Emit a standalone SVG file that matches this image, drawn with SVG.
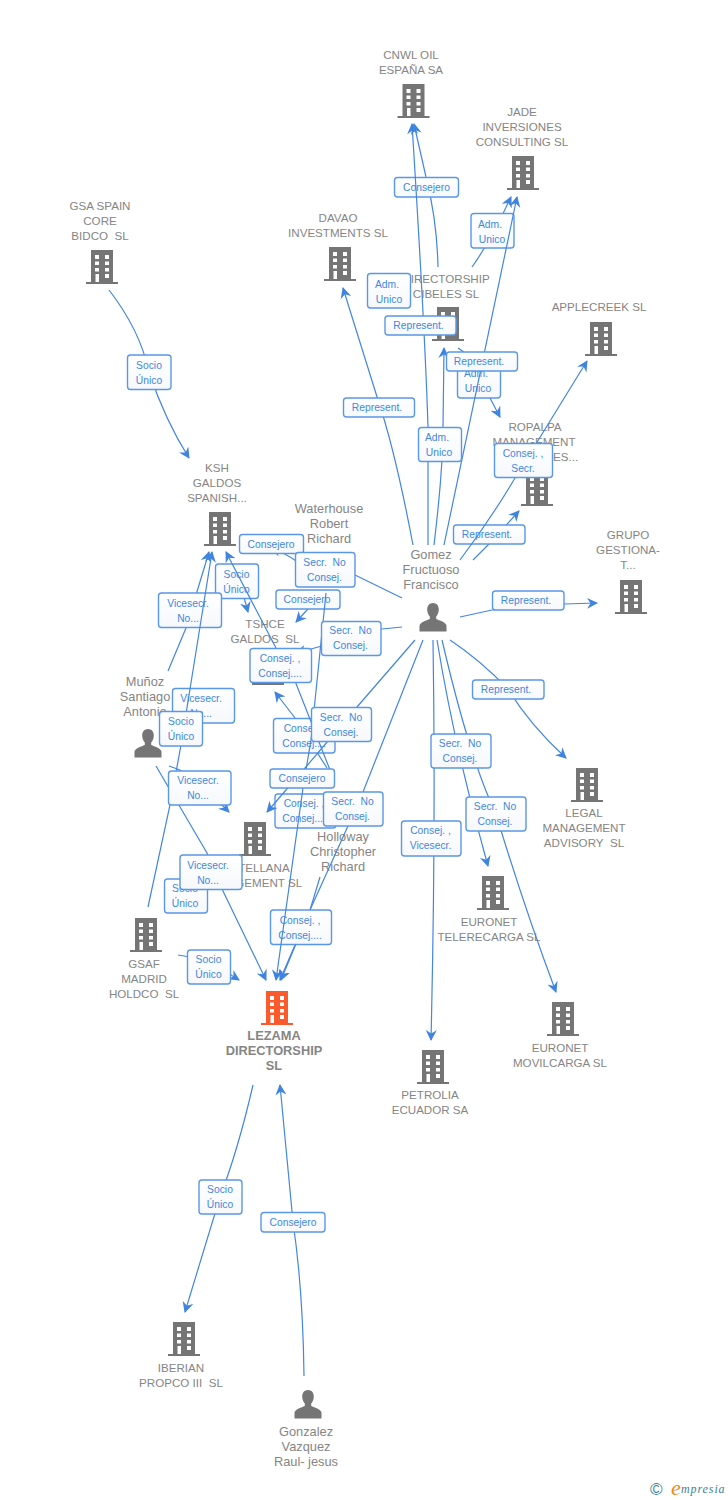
<svg xmlns="http://www.w3.org/2000/svg" width="728" height="1500" viewBox="0 0 728 1500">
<style>
text{font-family:"Liberation Sans",Arial,sans-serif}
.n{font-size:11.6px;fill:#858585;text-anchor:middle}
.p{font-size:12.8px;fill:#858585;text-anchor:middle}
.m{font-size:12.8px;fill:#858585;text-anchor:middle;font-weight:bold}
.c{fill:none;stroke:#4286e0;stroke-width:1.2;marker-end:url(#a)}
.l rect{fill:url(#g);stroke:#5a97e8;stroke-width:1.4}
.l text{font-size:10.3px;fill:#3f87e2;text-anchor:middle}
.b{fill:#757575}
.o{fill:#fb5a2c}
</style>
<defs>
<linearGradient id="g" x1="0" y1="0" x2="0" y2="1"><stop offset="0" stop-color="#ffffff"/><stop offset="1" stop-color="#f6f8fb"/></linearGradient>
<marker id="a" markerUnits="userSpaceOnUse" markerWidth="13" markerHeight="12" refX="10" refY="5.5" orient="auto"><path d="M11 5.500 L0 0 L3.500 5.500 L0 11Z" fill="#3f84de"/></marker>
<symbol id="bd" width="34" height="36" viewBox="-17 0 34 36" overflow="visible"><path fill-rule="evenodd" d="M-11 0H11V32H16V34H-16V32H-11ZM-7 5V9H-3V5ZM3 5V9H7V5ZM-7 11.500V15H-3V11.500ZM3 11.500V15H7V11.500ZM-7 18V21.500H-3V18ZM3 18V21.500H7V18ZM-6.500 24V32H-3V24ZM3 24V28H7V24Z"/></symbol>
<symbol id="pr" width="30" height="32" viewBox="-15 0 30 32" overflow="visible"><path d="M0 0C3.600 0 5.800 2.800 5.800 6.500C5.800 9.500 4.600 12 3.200 13.500V16C6.500 17.500 12.500 19 13.500 22.500V28.500H-13.500V22.500C-12.500 19 -6.500 17.500 -3.200 16V13.500C-4.600 12 -5.800 9.500 -5.800 6.500C-5.800 2.800 -3.600 0 0 0Z"/></symbol>
</defs>
<g id="n-cnwl"><use href="#bd" class="b" x="396.500" y="84"/><text class="n" x="411" y="59">CNWL OIL</text><text class="n" x="411" y="74">ESPAÑA SA</text></g>
<g id="n-jade"><use href="#bd" class="b" x="506" y="156"/><text class="n" x="522" y="116">JADE</text><text class="n" x="522" y="131">INVERSIONES</text><text class="n" x="522" y="146">CONSULTING SL</text></g>
<g id="n-davao"><use href="#bd" class="b" x="323" y="247"/><text class="n" x="338" y="222">DAVAO</text><text class="n" x="338" y="237">INVESTMENTS SL</text></g>
<g id="n-gsa"><use href="#bd" class="b" x="85" y="250"/><text class="n" x="100" y="210">GSA SPAIN</text><text class="n" x="100" y="225">CORE</text><text class="n" x="100" y="240">BIDCO&#160; SL</text></g>
<g id="n-cibeles"><use href="#bd" class="b" x="431" y="307"/><text class="n" x="446" y="283">DIRECTORSHIP</text><text class="n" x="446" y="298">CIBELES SL</text></g>
<g id="n-applecreek"><use href="#bd" class="b" x="584" y="322"/><text class="n" x="599" y="311">APPLECREEK SL</text></g>
<g id="n-ropalpa"><use href="#bd" class="b" x="520" y="472"/><text class="n" x="535" y="431">ROPALPA</text><text class="n" x="534" y="446">MANAGEMENT</text><text class="n" x="553" y="461" style="text-anchor:start">ES...</text></g>
<g id="n-ksh"><use href="#bd" class="b" x="203" y="512"/><text class="n" x="217" y="472">KSH</text><text class="n" x="217" y="487">GALDOS</text><text class="n" x="217" y="502">SPANISH...</text></g>
<g id="n-grupo"><use href="#bd" class="b" x="614" y="580"/><text class="n" x="628" y="539">GRUPO</text><text class="n" x="628" y="554">GESTIONA-</text><text class="n" x="628" y="569">T...</text></g>
<g id="n-tshce"><use href="#bd" class="b" x="251" y="651"/><text class="n" x="265" y="628">TSHCE</text><text class="n" x="265" y="643">GALDOS&#160; SL</text></g>
<g id="n-legal"><use href="#bd" class="b" x="570" y="768"/><text class="n" x="584" y="817">LEGAL</text><text class="n" x="584" y="832">MANAGEMENT</text><text class="n" x="584" y="847">ADVISORY&#160; SL</text></g>
<g id="n-castellana"><use href="#bd" class="b" x="238" y="822"/><text class="n" x="252" y="872">CASTELLANA</text><text class="n" x="252" y="887">MANAGEMENT SL</text></g>
<g id="n-eurotele"><use href="#bd" class="b" x="476" y="876"/><text class="n" x="489" y="926">EURONET</text><text class="n" x="489" y="941">TELERECARGA SL</text></g>
<g id="n-euromovil"><use href="#bd" class="b" x="546" y="1002"/><text class="n" x="560" y="1052">EURONET</text><text class="n" x="560" y="1067">MOVILCARGA SL</text></g>
<g id="n-gsaf"><use href="#bd" class="b" x="129" y="918"/><text class="n" x="144" y="968">GSAF</text><text class="n" x="144" y="983">MADRID</text><text class="n" x="144" y="998">HOLDCO&#160; SL</text></g>
<g id="n-lezama"><use href="#bd" class="o" x="260" y="991"/><text class="m" x="274" y="1040">LEZAMA</text><text class="m" x="274" y="1055">DIRECTORSHIP</text><text class="m" x="274" y="1070">SL</text></g>
<g id="n-petrolia"><use href="#bd" class="b" x="416" y="1050"/><text class="n" x="430" y="1099">PETROLIA</text><text class="n" x="430" y="1114">ECUADOR SA</text></g>
<g id="n-iberian"><use href="#bd" class="b" x="167" y="1322"/><text class="n" x="181" y="1372">IBERIAN</text><text class="n" x="181" y="1387">PROPCO III&#160; SL</text></g>
<g id="n-gomez"><use href="#pr" class="b" x="418" y="603"/><text class="p" x="431" y="559">Gomez</text><text class="p" x="431" y="574">Fructuoso</text><text class="p" x="431" y="589">Francisco</text></g>
<g id="n-munoz"><use href="#pr" class="b" x="133" y="729"/><text class="p" x="145" y="686">Muñoz</text><text class="p" x="145" y="701">Santiago</text><text class="p" x="145" y="716">Antonio</text></g>
<g id="n-waterhouse"><text class="p" x="329" y="513">Waterhouse</text><text class="p" x="329" y="528">Robert</text><text class="p" x="329" y="543">Richard</text></g>
<g id="n-holloway"><text class="p" x="343" y="841">Holloway</text><text class="p" x="343" y="856">Christopher</text><text class="p" x="343" y="871">Richard</text></g>
<g id="n-gonzalez"><use href="#pr" class="b" x="293" y="1390"/><text class="p" x="306" y="1436">Gonzalez</text><text class="p" x="306" y="1451">Vazquez</text><text class="p" x="306" y="1466">Raul- jesus</text></g>
<g id="connectors">
<path class="c" d="M438 267Q437 220 426 177L414 124"/>
<path class="c" d="M472 267Q490 242 511 197"/>
<path class="c" d="M458 348L478 362L490 398L500 417"/>
<path class="c" d="M473 560L488 545L519 511"/>
<path class="c" d="M238 576L248 612"/>
<path class="c" d="M322 595L307 610L296 622"/>
<path class="c" d="M168 671L186 628L209 552"/>
<path class="c" d="M327 768L295 718L275 692"/>
<path class="c" d="M320 877L310 910L281 980"/>
<path class="c" d="M423 640L363 792L348 826L310 910L280 980"/>
<path class="c" d="M402 598L355 575L325 565"/>
<path class="c" d="M296 561Q285 553 271 548"/>
<g class="l">
<rect x="394.500" y="177.500" width="64" height="19.500" rx="3"/><text x="426.500" y="191">Consejero</text>
<rect x="471" y="213.500" width="43" height="34.500" rx="3"/><text x="490" y="227.500">Adm.</text><text x="492" y="242.500">Unico</text>
<rect x="457.500" y="363" width="43" height="35" rx="3"/><text x="476" y="377">Adm.</text><text x="478" y="392">Unico</text>
<rect x="453.500" y="525" width="71.500" height="19" rx="3"/><text x="487" y="538">Represent.</text>
<rect x="215.500" y="564" width="43" height="34.500" rx="3"/><text x="236.500" y="577.500">Socio</text><text x="236.500" y="592.500">Único</text>
<rect x="276" y="590" width="64" height="19" rx="3"/><text x="307" y="603">Consejero</text>
<rect x="158.500" y="593" width="63" height="34.500" rx="3"/><text x="188" y="606.500">Vicesecr.</text><text x="188" y="621.500">No...</text>
<rect x="172.500" y="688.500" width="62" height="34.500" rx="3"/><text x="201" y="702">Vicesecr.</text><text x="201" y="717">No...</text>
<rect x="273.500" y="718.500" width="61.500" height="34.500" rx="3"/><text x="304" y="732">Consej. ,</text><text x="304" y="747">Consej....</text>
<rect x="275" y="794" width="61" height="34" rx="3"/><text x="304" y="807">Consej. ,</text><text x="304" y="822">Consej....</text>
<rect x="270.500" y="910" width="61" height="34.500" rx="3"/><text x="300" y="923.500">Consej. ,</text><text x="300" y="938.500">Consej....</text>
</g>
<path class="c" d="M428 545V427Q425 330 412 124"/>
<path class="c" d="M444 545Q480 370 517 197"/>
<path class="c" d="M434 545Q443 470 443 427L444 348"/>
<path class="c" d="M413 545Q395 450 378 400L343 288"/>
<path class="c" d="M460 560Q490 520 515 478L587 361"/>
<path class="c" d="M460 617L492 610L564 604L597 603"/>
<path class="c" d="M450 640Q480 660 508 689Q530 725 566 758"/>
<path class="c" d="M437 640Q455 750 488 866"/>
<path class="c" d="M442 640Q470 760 496 814Q525 910 556 992"/>
<path class="c" d="M433 640Q436 830 431 1040"/>
<path class="c" d="M415 640L357 707L305 768L267 812"/>
<path class="c" d="M402 627L382 629L322 646L296 653"/>
<path class="c" d="M326 593L311 740L303 788L276 980"/>
<path class="c" d="M330 770L295 681L276 648L226 552"/>
<path class="c" d="M148 907L170 805L181 745L212 552"/>
<path class="c" d="M109 290Q140 330 149 372Q165 420 189 458"/>
<path class="c" d="M169 766L180 770L222 805L229 812"/>
<path class="c" d="M156 766L207 853L222 889L266 980"/>
<path class="c" d="M178 955L190 957L231 975L239 980"/>
<path class="c" d="M253 1085Q238 1150 220 1197L185 1312"/>
<path class="c" d="M304 1376Q303 1290 293 1222L280 1085"/>
<g class="l">
<rect x="367.500" y="273.500" width="43" height="34.500" rx="3"/><text x="387" y="287.500">Adm.</text><text x="389" y="302.500">Unico</text>
<rect x="385" y="316" width="71" height="19" rx="3"/><text x="418.500" y="329">Represent.</text>
<rect x="446.500" y="352" width="71" height="19" rx="3"/><text x="479" y="365">Represent.</text>
<rect x="343.500" y="398" width="71" height="19" rx="3"/><text x="377" y="411">Represent.</text>
<rect x="418.500" y="427.500" width="43" height="34" rx="3"/><text x="437" y="441">Adm.</text><text x="439" y="456">Unico</text>
<rect x="494.500" y="443.500" width="58" height="34" rx="3"/><text x="523" y="457">Consej. ,</text><text x="523" y="472">Secr.</text>
<rect x="492.500" y="591" width="71.500" height="19" rx="3"/><text x="526" y="604">Represent.</text>
<rect x="472.500" y="680" width="71.500" height="19" rx="3"/><text x="506" y="693">Represent.</text>
<rect x="239.500" y="534.500" width="64" height="19" rx="3"/><text x="271" y="548">Consejero</text>
<rect x="295.500" y="552.500" width="59.500" height="34.500" rx="3"/><text x="324.500" y="566">Secr.&#160; No</text><text x="324.500" y="581">Consej.</text>
<rect x="321.500" y="621.500" width="59.500" height="34" rx="3"/><text x="350.500" y="634">Secr.&#160; No</text><text x="350.500" y="649">Consej.</text>
<rect x="250" y="648.500" width="61.500" height="34" rx="3"/><text x="280" y="661.500">Consej. ,</text><text x="280" y="676.500">Consej....</text>
<rect x="159.500" y="711.500" width="43" height="34.500" rx="3"/><text x="181" y="725">Socio</text><text x="181" y="740">Único</text>
<rect x="311.500" y="707.500" width="60" height="34" rx="3"/><text x="341" y="720.500">Secr.&#160; No</text><text x="341" y="735.500">Consej.</text>
<rect x="431" y="734" width="60" height="34" rx="3"/><text x="460" y="747">Secr.&#160; No</text><text x="460" y="762">Consej.</text>
<rect x="270" y="769" width="64.500" height="19" rx="3"/><text x="302" y="782">Consejero</text>
<rect x="168.500" y="771" width="62.500" height="34" rx="3"/><text x="198" y="784">Vicesecr.</text><text x="198" y="799">No...</text>
<rect x="323.500" y="792" width="59.500" height="34" rx="3"/><text x="352.500" y="805">Secr.&#160; No</text><text x="352.500" y="820">Consej.</text>
<rect x="466" y="797" width="60" height="34" rx="3"/><text x="495" y="810">Secr.&#160; No</text><text x="495" y="825">Consej.</text>
<rect x="401.500" y="821" width="59.500" height="35" rx="3"/><text x="430.500" y="834">Consej. ,</text><text x="430.500" y="849">Vicesecr.</text>
<rect x="164.500" y="879" width="43" height="34" rx="3"/><text x="185" y="892">Socio</text><text x="185" y="907">Único</text>
<rect x="180" y="855" width="62" height="34.500" rx="3"/><text x="208" y="868.500">Vicesecr.</text><text x="208" y="883.500">No...</text>
<rect x="187.500" y="950" width="43" height="34" rx="3"/><text x="208.500" y="963">Socio</text><text x="208.500" y="978">Único</text>
<rect x="127.500" y="355" width="43.500" height="34.500" rx="3"/><text x="149" y="368.500">Socio</text><text x="149" y="383.500">Único</text>
<rect x="199" y="1180" width="43" height="34" rx="3"/><text x="220" y="1193">Socio</text><text x="220" y="1208">Único</text>
<rect x="261" y="1212.500" width="64" height="19.500" rx="3"/><text x="293" y="1226">Consejero</text>
</g>
</g>
<g id="logo">
<text x="650" y="1495" style="font-size:17px;fill:#3f7f97">©</text>
<text x="671" y="1495" style="font-size:22px;font-style:italic;fill:#f08a1d;font-family:'Liberation Serif',serif">e</text>
<text x="681" y="1493" style="font-size:12px;font-style:italic;fill:#3f7f97;font-family:'Liberation Serif',serif;letter-spacing:.9px">mpresia</text>
</g>
</svg>
